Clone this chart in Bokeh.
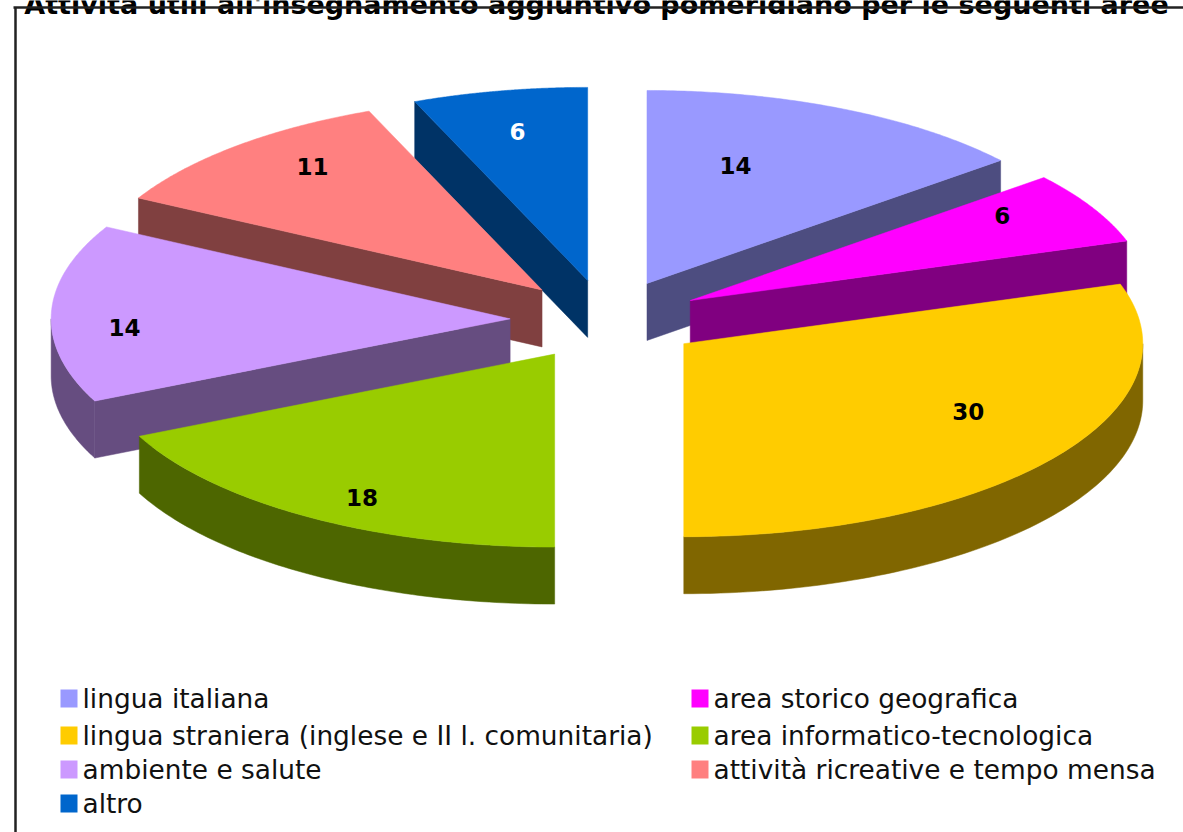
import numpy as np
from bokeh.core.properties import value
from bokeh.embed import file_html
from bokeh.models import ColumnDataSource, Range1d
from bokeh.plotting import figure
from bokeh.resources import INLINE

categories = ["lingua italiana", "area storico geografica",
              "lingua straniera (inglese e II l. comunitaria)", "area informatico-tecnologica",
              "ambiente e salute", "attività ricreative e tempo mensa", "altro"]
values = [14.0, 6.0, 30.0, 18.0, 14.9, 10.95, 6.15]
labels = ["14", "6", "30", "18", "14", "11", "6"]
colors = ["#9999FF", "#FF00FF", "#FFCC00", "#99CC00", "#CC99FF", "#FF8080", "#0066CC"]
dark = ["#4D4D80", "#800080", "#806600", "#4D6600", "#664D80", "#804040", "#003366"]
title = "Attività utili all'insegnamento aggiuntivo pomeridiano per le seguenti aree"

W, H = 1183, 832
CX, CY, RX, RY, DEPTH, EXPLODE = 605.6, 319.5, 459.0, 193.0, 57.0, 96.0
# label offset from each slice's apex, in fractions of the radii
LABEL_OFF = [(0.193, -0.61), (0.68, -0.44), (0.62, 0.35), (-0.42, 0.745), (-0.84, 0.045), (-0.50, -0.64), (-0.153, -0.77)]
LABEL_COL = ["black"] * 6 + ["white"]
# legend: order -> (column, row)
LEG_X = [60, 691]
LEG_Y = [698, 735, 769, 803]
LEG_CELL = [(0, 0), (1, 0), (0, 1), (1, 1), (0, 2), (1, 2), (0, 3)]

p = figure(width=W, height=H, x_range=Range1d(0, W), y_range=Range1d(H, 0),
           output_backend="svg", toolbar_location=None, min_border=0,
           outline_line_color=None, background_fill_color="white")
p.axis.visible = False
p.grid.visible = False
p.styles = {"position": "absolute", "left": "0", "top": "0"}

cum = np.concatenate([[0], np.cumsum(values)]) / np.sum(values) * 2 * np.pi
xs, ys, fc = [], [], []
apexes = []
for i in range(len(values)):
    a0, a1 = cum[i], cum[i + 1]
    mid = (a0 + a1) / 2
    ax = CX + EXPLODE * np.sin(mid)
    ay = CY - EXPLODE * RY / RX * np.cos(mid)
    apexes.append((ax, ay))
order = [6, 5, 4, 3, 0, 1, 2]
for i in order:
    a0, a1 = cum[i], cum[i + 1]
    ax, ay = apexes[i]
    def pt(a):
        return ax + RX * np.sin(a), ay - RY * np.cos(a)
    # radial faces
    if a0 > np.pi + 1e-6:
        x, y = pt(a0)
        xs.append([ax, x, x, ax]); ys.append([ay, y, y + DEPTH, ay + DEPTH]); fc.append(dark[i])
    if a1 < np.pi - 1e-6:
        x, y = pt(a1)
        xs.append([ax, x, x, ax]); ys.append([ay, y, y + DEPTH, ay + DEPTH]); fc.append(dark[i])
    # rim (lower half of the ellipse)
    r0, r1 = max(a0, np.pi / 2), min(a1, 3 * np.pi / 2)
    if r1 > r0:
        t = np.linspace(r0, r1, 80)
        x, y = pt(t)
        xs.append(list(x) + list(x[::-1])); ys.append(list(y) + list(y[::-1] + DEPTH)); fc.append(dark[i])
    # top
    t = np.linspace(a0, a1, 120)
    x, y = pt(t)
    xs.append([ax] + list(x)); ys.append([ay] + list(y)); fc.append(colors[i])

p.patches("xs", "ys", fill_color="fc", line_color="fc", line_width=0.5,
          source=ColumnDataSource(dict(xs=xs, ys=ys, fc=fc)))

lx = [apexes[i][0] + LABEL_OFF[i][0] * RX for i in range(7)]
ly = [apexes[i][1] + LABEL_OFF[i][1] * RY for i in range(7)]
p.text(lx, ly, text=labels, text_color=LABEL_COL, text_font=value("DejaVu Sans"),
       text_font_style="bold", text_font_size="23px", text_align="center", text_baseline="middle")

sx = [LEG_X[c] for c, r in LEG_CELL]
sy = [LEG_Y[r] for c, r in LEG_CELL]
p.rect([x + 8.5 for x in sx], sy, width=17, height=18, fill_color=colors, line_color=None)
p.text([x + 22 for x in sx], sy, text=categories, text_color="#111111", text_font=value("DejaVu Sans"),
       text_font_size="26.4px", text_align="left", text_baseline="middle")

p.text([596], [4], text=[title], text_color="black", text_font=value("DejaVu Sans"),
       text_font_style="bold", text_font_size="27px", text_align="center", text_baseline="alphabetic")
p.line([15, 15], [7, H], line_color="#222222", line_width=2.5)
p.line([13, W], [7, 7], line_color="#222222", line_width=2.5)

open("out.html", "w").write(file_html(p, INLINE))
